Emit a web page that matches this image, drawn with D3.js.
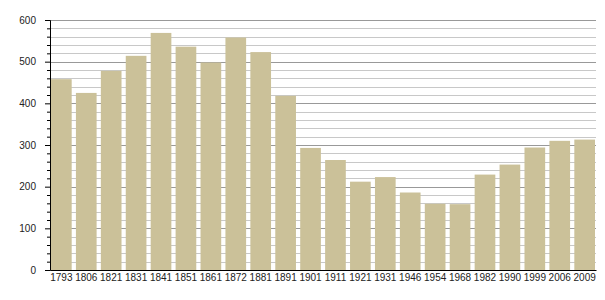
<!DOCTYPE html>
<html>
<head>
<meta charset="utf-8">
<script src="https://cdn.jsdelivr.net/npm/d3@7"></script>
<style>
  body { margin: 0; background: #fff; }
  text { font-family: "Liberation Sans", Arial, sans-serif; }
</style>
</head>
<body>
<div class="chart"></div>
<script>
// population by census year
var years = ["1793", "1806", "1821", "1831", "1841", "1851", "1861", "1872", "1881", "1891", "1901",
             "1911", "1921", "1931", "1946", "1954", "1968", "1982", "1990", "1999", "2006", "2009"];
var population = [458, 425, 478, 514, 569, 536, 498, 558, 523, 418, 293,
                  264, 212, 223, 186, 159, 158, 229, 253, 294, 310, 313];
var yTicks = [0, 100, 200, 300, 400, 500, 600];

var svgWidth = 605, svgHeight = 300;
var margin = { top: 20, right: 9, bottom: 30, left: 50 };
var width = svgWidth - margin.left - margin.right;
var height = svgHeight - margin.top - margin.bottom;

var svg = d3.select(".chart").append("svg")
    .attr("width", svgWidth)
    .attr("height", svgHeight);

var chartGroup = svg.append("g")
    .attr("transform", `translate(${margin.left}, ${margin.top})`);

var xScale = d3.scaleBand()
    .domain(years)
    .range([0, width])
    .paddingInner(0.17)
    .paddingOuter(0.04);

var yScale = d3.scaleLinear()
    .domain([0, 600])
    .range([height, 0]);

// gridlines: minor every 20, major every 100
var minor = d3.range(20, 601, 20).filter(d => d % 100 != 0);
chartGroup.selectAll(".minor")
    .data(minor)
    .enter()
    .append("line")
    .attr("x1", 0)
    .attr("x2", width)
    .attr("y1", d => Math.round(yScale(d)) + 0.5)
    .attr("y2", d => Math.round(yScale(d)) + 0.5)
    .attr("stroke", "#c8c8c8");
chartGroup.selectAll(".major")
    .data(yTicks.slice(1))
    .enter()
    .append("line")
    .attr("x1", 0)
    .attr("x2", width)
    .attr("y1", d => Math.round(yScale(d)) + 0.5)
    .attr("y2", d => Math.round(yScale(d)) + 0.5)
    .attr("stroke", "#999");

// bars
chartGroup.selectAll("rect")
    .data(population)
    .enter()
    .append("rect")
    .attr("x", (d, i) => xScale(years[i]))
    .attr("y", d => yScale(d))
    .attr("width", xScale.bandwidth())
    .attr("height", d => height - yScale(d))
    .attr("fill", "#cbc199");

// y axis with minor ticks
var yAxis = d3.axisLeft(yScale).tickValues(yTicks).tickSize(5).tickPadding(9);
var yg = chartGroup.append("g").call(yAxis);
yg.selectAll("text").attr("font-size", "10px").attr("fill", "#222").style("font-family", "Liberation Sans, Arial, sans-serif");
yg.select(".domain").attr("stroke", "#000");
chartGroup.append("g")
    .call(d3.axisLeft(yScale).tickValues(minor).tickSize(3).tickFormat(""))
    .select(".domain").remove();

// x axis
var xAxis = d3.axisBottom(xScale).tickSize(0).tickPadding(4);
var xg = chartGroup.append("g")
    .attr("transform", `translate(0, ${height})`)
    .call(xAxis);
xg.selectAll("text").attr("font-size", "10px").attr("fill", "#222").style("font-family", "Liberation Sans, Arial, sans-serif");
xg.select(".domain").attr("stroke", "#000");
</script>
</body>
</html>
